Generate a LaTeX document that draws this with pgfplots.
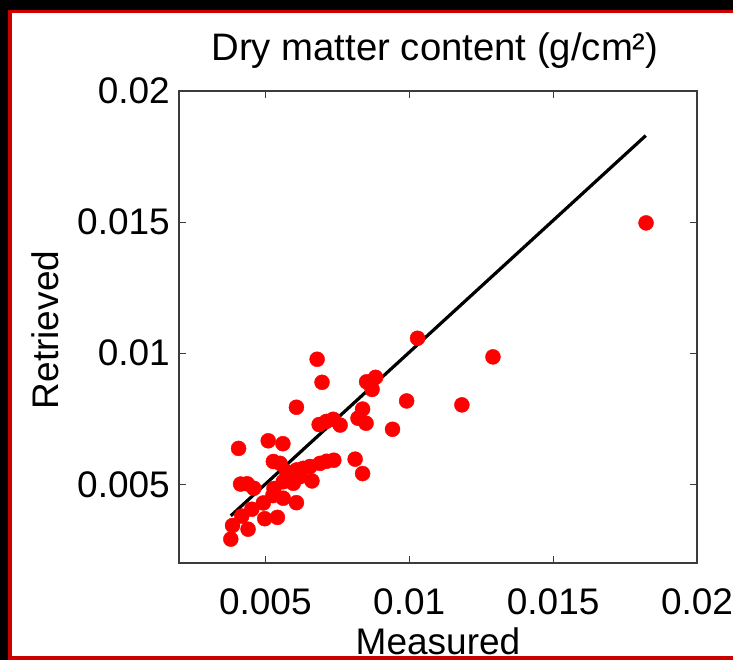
\documentclass[border=0pt]{standalone}
\usepackage{pgfplots}
\pgfplotsset{compat=1.18}
\usepackage{fontspec}
\setmainfont{Liberation Sans}
\definecolor{frame}{RGB}{200,0,0}
\definecolor{axgray}{RGB}{60,60,60}
\newcommand\bigf{\fontsize{37pt}{44pt}\selectfont}
\newcommand\titf{\fontsize{38.3pt}{46pt}\selectfont}
\begin{document}
\begin{tikzpicture}[x=1pt,y=1pt]
\fill[white] (0,0) rectangle (733,660);
\begin{axis}[
  at={(179pt,97pt)}, anchor=south west,
  scale only axis, width=518pt, height=472pt,
  xmin=0.002, xmax=0.02, ymin=0.002, ymax=0.02,
  xtick={0.005,0.01,0.015,0.02}, xticklabels={0.005,0.01,0.015,0.02},
  ytick={0.005,0.01,0.015,0.02}, yticklabels={0.005,0.01,0.015,0.02},
  scaled ticks=false,
  tick align=inside, major tick length=7pt,
  tick style={axgray, line width=1.2pt},
  axis line style={axgray, line width=1.6pt},
  xticklabel style={font=\bigf, inner sep=0pt, anchor=north, yshift=-25pt},
  yticklabel style={font=\bigf, inner sep=0pt, anchor=east, xshift=-9pt},
  clip=false,
]
\addplot[only marks, mark=*, mark size=7.5pt, red, mark options={draw=red, fill=red}] coordinates {
(0.01823,0.01497) (0.01291,0.00986) (0.01183,0.00803) (0.01029,0.01057)
(0.00991,0.00818) (0.00942,0.00710) (0.00852,0.00891) (0.00883,0.00908)
(0.00871,0.00862) (0.00838,0.00787) (0.00822,0.00752) (0.00850,0.00733)
(0.00812,0.00596) (0.00838,0.00541) (0.00680,0.00977) (0.00697,0.00889)
(0.00608,0.00794) (0.00687,0.00728) (0.00712,0.00740) (0.00736,0.00748)
(0.00760,0.00726) (0.00407,0.00637) (0.00510,0.00666) (0.00561,0.00655)
(0.00528,0.00587) (0.00551,0.00580) (0.00690,0.00580) (0.00713,0.00588)
(0.00738,0.00592) (0.00655,0.00568) (0.00632,0.00561) (0.00609,0.00555)
(0.00574,0.00548) (0.00597,0.00504) (0.00562,0.00510) (0.00662,0.00513)
(0.00414,0.00501) (0.00437,0.00502) (0.00460,0.00485) (0.00530,0.00484)
(0.00620,0.00529) (0.00526,0.00457) (0.00562,0.00447) (0.00493,0.00429)
(0.00608,0.00430) (0.00453,0.00405) (0.00418,0.00379) (0.00498,0.00369)
(0.00542,0.00374) (0.00386,0.00343) (0.00440,0.00329) (0.00380,0.00291)
};
\addplot[black, line width=3.2pt, no marks] coordinates {(0.0038,0.0038) (0.01822,0.01830)};
\end{axis}
\node[font=\titf, anchor=base, inner sep=0pt] at (435,599) {Dry matter content (g/cm²)};
\node[font=\bigf, anchor=base, inner sep=0pt] at (438,5) {Measured};
\node[font=\bigf, anchor=base, inner sep=0pt, rotate=90] at (58,330) {Retrieved};
% frame: black strips left and top, red line left, top and bottom
\fill[black] (0,0) rectangle (8,660);
\fill[black] (0,650) rectangle (733,660);
\fill[frame] (8,0) rectangle (11.5,650);
\fill[frame] (8,646.5) rectangle (733,650);
\fill[frame] (8,0) rectangle (733,3.5);
\pgfresetboundingbox
\useasboundingbox (0,0) rectangle (733,660);
\end{tikzpicture}
\end{document}
